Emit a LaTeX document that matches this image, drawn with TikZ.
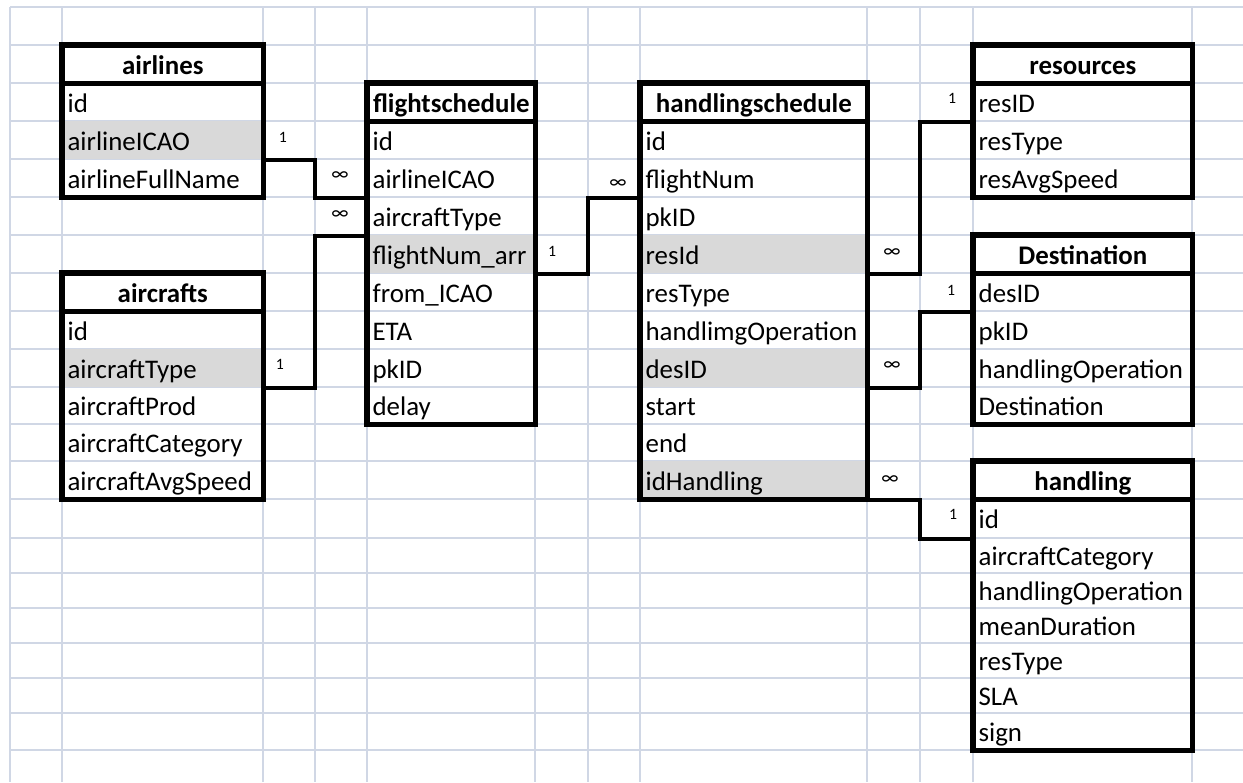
\documentclass[tikz,border=0pt]{standalone}
\usepackage{fontspec}
\setmainfont{Carlito}
\usetikzlibrary{calc}

\definecolor{gridc}{RGB}{208,215,229}
\definecolor{keyfill}{RGB}{217,217,217}

% One table row: name, left x, top y, bottom y, width (all in px), style, text
\newcommand\tabrow[7]{%
  \pgfmathsetmacro\rowht{(#4-#3)*0.569055}%
  \pgfmathsetmacro\rowtw{#5*0.569055-6}%
  \node[#6, text width=\rowtw pt, minimum height=\rowht pt, anchor=north west] (#1) at (#2,#3) {#7};%
}

\tikzset{
  cell/.style={inner xsep=3pt, inner ysep=0pt, text height=11.3pt, text depth=0pt,
    font=\fontsize{15.3}{18}\selectfont, align=left},
  head/.style={cell, align=center, font=\fontsize{15.3}{18}\selectfont\bfseries},
  fld/.style={cell},
  keyfld/.style={cell, fill=keyfill},
  gridline/.style={draw=gridc, line width=1.1pt},
  tblframe/.style={draw=black, line width=3.1pt},
  conn/.style={draw=black, line width=2.4pt},
  cardone/.style={inner sep=0pt, font=\fontsize{9}{10}\selectfont},
  cardmany/.style={inner sep=0pt, font=\fontsize{11.5}{12}\selectfont},
}

\begin{document}
\begin{tikzpicture}[x=0.02cm, y=-0.02cm]
  % sheet background
  \fill[white] (0,0) rectangle (1243,782);
  \useasboundingbox (0,0) rectangle (1243,782);

  % spreadsheet grid
  \foreach \gx in {10,62,263,315,367,535,588,640,867,920,973,1192}
    \draw[gridline] (\gx,7) -- (\gx,782);
  \foreach \gy in {7,45,83,121,159,197,235,273,311,349,387,424,461,499,538,573,608,643,678,713,750}
    \draw[gridline] (10,\gy) -- (1243,\gy);

  % airlines
  \tabrow{al-h}{62}{45}{83}{201}{head}{airlines}
  \tabrow{al-id}{62}{83}{121}{201}{fld}{id}
  \tabrow{al-icao}{62}{121}{159}{201}{keyfld}{airlineICAO}
  \tabrow{al-name}{62}{159}{197}{201}{fld}{airlineFullName}

  % aircrafts
  \tabrow{ac-h}{62}{273}{311}{201}{head}{aircrafts}
  \tabrow{ac-id}{62}{311}{349}{201}{fld}{id}
  \tabrow{ac-type}{62}{349}{387}{201}{keyfld}{aircraftType}
  \tabrow{ac-prod}{62}{387}{424}{201}{fld}{aircraftProd}
  \tabrow{ac-cat}{62}{424}{461}{201}{fld}{aircraftCategory}
  \tabrow{ac-speed}{62}{461}{499}{201}{fld}{aircraftAvgSpeed}

  % flightschedule
  \tabrow{fs-h}{367}{83}{121}{168}{head}{flightschedule}
  \tabrow{fs-id}{367}{121}{159}{168}{fld}{id}
  \tabrow{fs-airline}{367}{159}{197}{168}{fld}{airlineICAO}
  \tabrow{fs-actype}{367}{197}{235}{168}{fld}{aircraftType}
  \tabrow{fs-flight}{367}{235}{273}{168}{keyfld}{flightNum\_arr}
  \tabrow{fs-from}{367}{273}{311}{168}{fld}{from\_ICAO}
  \tabrow{fs-eta}{367}{311}{349}{168}{fld}{ETA}
  \tabrow{fs-pk}{367}{349}{387}{168}{fld}{pkID}
  \tabrow{fs-delay}{367}{387}{424}{168}{fld}{delay}

  % handlingschedule
  \tabrow{hs-h}{640}{83}{121}{227}{head}{handlingschedule}
  \tabrow{hs-id}{640}{121}{159}{227}{fld}{id}
  \tabrow{hs-flight}{640}{159}{197}{227}{fld}{flightNum}
  \tabrow{hs-pk}{640}{197}{235}{227}{fld}{pkID}
  \tabrow{hs-res}{640}{235}{273}{227}{keyfld}{resId}
  \tabrow{hs-restype}{640}{273}{311}{227}{fld}{resType}
  \tabrow{hs-op}{640}{311}{349}{227}{fld}{handlimgOperation}
  \tabrow{hs-des}{640}{349}{387}{227}{keyfld}{desID}
  \tabrow{hs-start}{640}{387}{424}{227}{fld}{start}
  \tabrow{hs-end}{640}{424}{461}{227}{fld}{end}
  \tabrow{hs-hand}{640}{461}{499}{227}{keyfld}{idHandling}

  % resources
  \tabrow{rs-h}{973}{45}{83}{219}{head}{resources}
  \tabrow{rs-id}{973}{83}{121}{219}{fld}{resID}
  \tabrow{rs-type}{973}{121}{159}{219}{fld}{resType}
  \tabrow{rs-speed}{973}{159}{197}{219}{fld}{resAvgSpeed}

  % Destination
  \tabrow{ds-h}{973}{235}{273}{219}{head}{Destination}
  \tabrow{ds-id}{973}{273}{311}{219}{fld}{desID}
  \tabrow{ds-pk}{973}{311}{349}{219}{fld}{pkID}
  \tabrow{ds-op}{973}{349}{387}{219}{fld}{handlingOperation}
  \tabrow{ds-dest}{973}{387}{424}{219}{fld}{Destination}

  % handling
  \tabrow{hd-h}{973}{461}{499}{219}{head}{handling}
  \tabrow{hd-id}{973}{499}{538}{219}{fld}{id}
  \tabrow{hd-cat}{973}{538}{573}{219}{fld}{aircraftCategory}
  \tabrow{hd-op}{973}{573}{608}{219}{fld}{handlingOperation}
  \tabrow{hd-mean}{973}{608}{643}{219}{fld}{meanDuration}
  \tabrow{hd-restype}{973}{643}{678}{219}{fld}{resType}
  \tabrow{hd-sla}{973}{678}{713}{219}{fld}{SLA}
  \tabrow{hd-sign}{973}{713}{750}{219}{fld}{sign}

  % table frames and header rules
  \foreach \hdr/\last in {al-h/al-name, ac-h/ac-speed, fs-h/fs-delay, hs-h/hs-hand,
                          rs-h/rs-speed, ds-h/ds-dest, hd-h/hd-sign} {
    \draw[tblframe] (\hdr.north west) rectangle (\last.south east);
    \draw[tblframe] (\hdr.south west) -- (\hdr.south east);
  }

  % relationships
  \foreach \src/\dst in {al-icao/fs-airline, ac-type/fs-actype, fs-flight/hs-flight,
                         hs-res/rs-id, hs-des/ds-id, hs-hand/hd-id}
    \draw[conn] (\src.south east)
      -| ($(\src.south east)!.5!(\dst.south west)$)
      |- (\dst.south west);

  % cardinalities
  \node[cardone]  (c1-one)  at (283,137) {1};
  \node[cardmany] (c1-many) at (340,176) {∞};
  \node[cardone]  (c2-one)  at (280,364) {1};
  \node[cardmany] (c2-many) at (340,215) {∞};
  \node[cardone]  (c3-one)  at (552,251) {1};
  \node[cardmany] (c3-many) at (618,184) {∞};
  \node[cardmany] (c4-many) at (892,253) {∞};
  \node[cardone]  (c4-one)  at (952,98)  {1};
  \node[cardmany] (c5-many) at (892,366) {∞};
  \node[cardone]  (c5-one)  at (951,290) {1};
  \node[cardmany] (c6-many) at (890,480) {∞};
  \node[cardone]  (c6-one)  at (953,514) {1};
\end{tikzpicture}
\end{document}
